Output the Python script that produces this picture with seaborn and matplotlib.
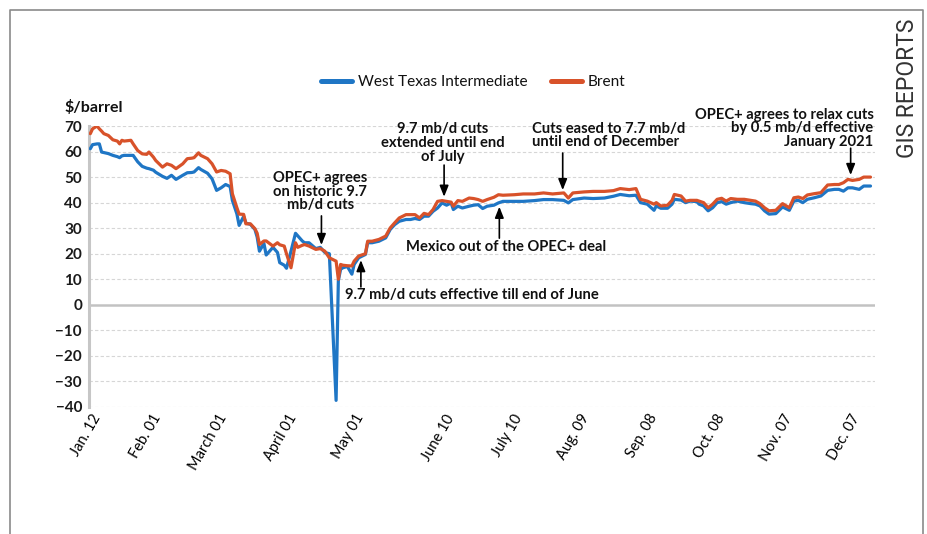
import matplotlib
matplotlib.use("Agg")
import matplotlib.pyplot as plt
from matplotlib.lines import Line2D
import pandas as pd
import seaborn as sns

# Daily crude oil prices in 2020, $/barrel
dates = [
    "2020-01-02", "2020-01-03", "2020-01-05", "2020-01-06", "2020-01-07", "2020-01-08", "2020-01-10",
    "2020-01-12", "2020-01-14", "2020-01-15", "2020-01-16", "2020-01-17", "2020-01-20", "2020-01-21",
    "2020-01-23", "2020-01-25", "2020-01-27", "2020-01-28", "2020-01-30", "2020-01-31",
    "2020-02-03", "2020-02-05", "2020-02-07", "2020-02-09", "2020-02-12", "2020-02-14", "2020-02-16",
    "2020-02-17", "2020-02-19", "2020-02-20", "2020-02-23", "2020-02-25", "2020-02-27", "2020-02-29",
    "2020-03-02", "2020-03-04", "2020-03-05", "2020-03-07", "2020-03-08", "2020-03-10", "2020-03-11",
    "2020-03-13", "2020-03-15", "2020-03-16", "2020-03-17", "2020-03-19", "2020-03-20", "2020-03-23",
    "2020-03-25", "2020-03-26", "2020-03-28", "2020-03-29", "2020-03-31",
    "2020-04-02", "2020-04-03", "2020-04-05", "2020-04-06", "2020-04-08", "2020-04-11", "2020-04-13",
    "2020-04-15", "2020-04-17", "2020-04-20", "2020-04-21", "2020-04-22", "2020-04-23", "2020-04-25",
    "2020-04-27", "2020-04-28", "2020-04-30",
    "2020-05-03", "2020-05-04", "2020-05-06", "2020-05-09", "2020-05-12", "2020-05-14", "2020-05-16",
    "2020-05-18", "2020-05-21", "2020-05-23", "2020-05-25", "2020-05-27", "2020-05-29", "2020-05-31",
    "2020-06-02", "2020-06-04", "2020-06-06", "2020-06-08", "2020-06-10", "2020-06-11", "2020-06-13",
    "2020-06-15", "2020-06-18", "2020-06-20", "2020-06-22", "2020-06-24", "2020-06-26", "2020-06-29",
    "2020-07-01", "2020-07-03", "2020-07-08", "2020-07-12", "2020-07-17", "2020-07-21", "2020-07-25",
    "2020-07-30",
    "2020-08-01", "2020-08-03", "2020-08-08", "2020-08-12", "2020-08-17", "2020-08-21", "2020-08-24",
    "2020-08-28", "2020-08-31",
    "2020-09-02", "2020-09-05", "2020-09-08", "2020-09-09", "2020-09-11", "2020-09-14", "2020-09-16",
    "2020-09-17", "2020-09-20", "2020-09-22", "2020-09-24", "2020-09-27", "2020-09-28", "2020-09-30",
    "2020-10-02", "2020-10-04", "2020-10-06", "2020-10-08", "2020-10-10", "2020-10-12", "2020-10-15",
    "2020-10-18", "2020-10-21", "2020-10-23", "2020-10-25", "2020-10-27", "2020-10-29",
    "2020-11-01", "2020-11-03", "2020-11-04", "2020-11-07", "2020-11-09", "2020-11-11", "2020-11-13",
    "2020-11-15", "2020-11-18", "2020-11-21", "2020-11-24", "2020-11-27", "2020-11-29",
    "2020-12-01", "2020-12-03", "2020-12-05", "2020-12-08", "2020-12-10", "2020-12-13",
]

wti = [
    61.1, 62.7, 63.0, 63.0, 59.8, 59.6, 59.2, 58.5, 58.0, 57.6, 58.3, 58.5, 58.5, 58.5, 56.0, 54.2, 53.5, 53.3, 52.7, 51.9,
    50.3, 49.5, 50.7, 49.1, 50.7, 51.7, 51.8, 52.0, 53.7, 53.0, 51.5, 49.3, 44.8, 45.8,
    47.1, 46.3, 40.9, 35.6, 31.1, 34.6, 32.0, 31.5, 29.5, 26.5, 21.0, 24.0, 19.5, 22.5, 20.5, 16.5, 15.5, 14.3, 21.0,
    28.0, 27.0, 25.0, 24.3, 24.3, 22.0, 22.5, 20.5, 20.0, -37.4, 9.5, 13.9, 14.5, 15.0, 12.0, 15.8, 18.4,
    19.7, 24.3, 24.3, 24.9, 26.2, 29.5, 31.4, 32.7, 33.4, 33.4, 33.8, 33.4, 34.7, 34.7,
    36.6, 37.9, 39.9, 39.0, 39.9, 37.3, 38.6, 37.9, 38.6, 39.0, 39.2, 37.7, 38.6, 39.0,
    39.9, 40.5, 40.5, 40.5, 40.8, 41.2, 41.2, 40.9,
    39.9, 41.2, 41.8, 41.6, 41.8, 42.5, 43.2, 42.7, 42.9,
    40.0, 39.4, 37.0, 38.7, 37.8, 37.8, 39.4, 41.3, 41.0, 40.0, 40.6, 40.4, 39.4, 38.7,
    36.8, 38.0, 40.0, 40.4, 39.4, 40.0, 40.6, 40.0, 39.6, 39.4, 38.7, 36.8, 35.5,
    35.7, 37.4, 38.3, 37.0, 40.6, 40.9, 40.0, 41.3, 41.9, 42.6, 44.8, 45.2, 45.2,
    44.5, 45.8, 45.8, 45.2, 46.5, 46.5,
]

brent = [
    67.0, 68.9, 70.0, 68.9, 68.0, 67.0, 66.3, 64.6, 64.1, 63.0, 64.4, 64.1, 64.4, 63.0, 60.4, 59.1, 58.9, 59.8, 57.8, 56.5,
    53.9, 55.2, 54.6, 53.3, 55.2, 57.2, 57.4, 57.6, 59.5, 58.5, 57.2, 55.2, 52.0, 52.6,
    52.3, 51.3, 43.5, 38.0, 35.5, 35.4, 31.7, 31.7, 29.8, 28.0, 23.6, 25.0, 25.0, 23.0, 24.3, 23.5, 23.0, 20.0, 14.5,
    24.3, 22.5, 23.3, 23.6, 23.0, 21.7, 22.0, 21.0, 18.4, 17.1, 10.0, 15.8, 15.5, 15.3, 15.2, 17.1, 19.1,
    20.0, 24.9, 24.9, 25.6, 26.9, 30.1, 32.1, 34.0, 35.3, 35.3, 35.3, 34.0, 35.8, 35.3,
    37.3, 40.5, 40.8, 40.5, 40.2, 38.6, 40.8, 40.5, 41.8, 41.6, 41.2, 40.5, 41.2, 42.1,
    43.1, 42.9, 43.1, 43.4, 43.4, 43.8, 43.4, 43.8,
    41.8, 43.8, 44.2, 44.4, 44.4, 44.7, 45.5, 45.1, 45.5,
    41.3, 40.6, 39.4, 40.0, 38.7, 39.0, 40.9, 43.2, 42.6, 40.6, 40.9, 40.9, 40.6, 40.0,
    38.0, 39.4, 41.3, 41.7, 40.6, 41.6, 41.3, 41.3, 40.9, 40.6, 39.6, 38.0, 36.8,
    37.0, 38.7, 39.6, 38.0, 41.9, 42.2, 41.6, 43.0, 43.5, 43.9, 46.9, 47.1, 47.1,
    47.8, 49.1, 48.7, 49.1, 50.0, 50.0,
]

series_names = ["West Texas Intermediate", "Brent"]
tick_dates = ["2020-01-05", "2020-02-01", "2020-03-01", "2020-04-01", "2020-05-01", "2020-06-10",
              "2020-07-10", "2020-08-09", "2020-09-08", "2020-10-08", "2020-11-07", "2020-12-07"]
tick_labels = ["Jan. 12", "Feb. 01", "March 01", "April 01", "May 01", "June 10",
               "July 10", "Aug. 09", "Sep. 08", "Oct. 08", "Nov. 07", "Dec. 07"]
y_ticks = list(range(-40, 71, 10))

colors = {"West Texas Intermediate": "#1F76C5", "Brent": "#D8522A"}

sns.set_theme(style="white")
plt.rcParams["font.family"] = ["Lato", "DejaVu Sans"]

W, H = 927, 534
fig = plt.figure(figsize=(W / 100, H / 100), dpi=100)
ax = fig.add_axes([89 / W, 1 - 407 / H, (875 - 89) / W, (407 - 126) / H])

df = pd.DataFrame({
    "date": pd.to_datetime(dates + dates),
    "price": wti + brent,
    "series": [series_names[0]] * len(dates) + [series_names[1]] * len(dates),
})

sns.lineplot(data=df, x="date", y="price", hue="series", hue_order=series_names,
             palette=colors, linewidth=2.3, estimator=None, ax=ax, zorder=3)

# legend centred above the plot
sns.move_legend(ax, "center", bbox_to_anchor=(473.5 / W, 1 - 82 / H),
                bbox_transform=fig.transFigure, ncol=2, frameon=False, title=None,
                fontsize=11.1, handlelength=2.0, handletextpad=0.4, columnspacing=1.5)
for line in ax.get_legend().get_lines():
    line.set_linewidth(3.6)
    line.set_solid_capstyle("round")
for txt in ax.get_legend().get_texts():
    txt.set_color("#111111")

ax.set_ylim(-40, 70)
ax.set_xlim(pd.Timestamp("2020-01-01 10:00"), pd.Timestamp("2020-12-15"))
ax.set_yticks(y_ticks)
ax.set_xticks(pd.to_datetime(tick_dates))
ax.set_xticklabels(tick_labels, rotation=60, ha="right", va="center",
                   rotation_mode="anchor", fontsize=10.5, color="#000000")
ax.set_xlabel("")
ax.set_ylabel("")
ax.tick_params(axis="x", length=0, pad=6)
ax.tick_params(axis="y", length=0, pad=5, labelsize=11, labelcolor="#1a1a1a")
for lbl in ax.get_yticklabels():
    lbl.set_fontweight("bold")

# dashed horizontal grid, solid zero line
for y in y_ticks:
    if y != 0:
        ax.axhline(y, color="#d6d6d6", lw=0.8, ls=(0, (3, 2)), zorder=0)
ax.axhline(0, color="#c2c2c2", lw=1.8, zorder=1)

for side in ["top", "right", "bottom"]:
    ax.spines[side].set_visible(False)
ax.spines["left"].set_color("#c6c6c6")
ax.spines["left"].set_linewidth(2.2)


def day(d):
    return pd.Timestamp("2020-01-01") + pd.Timedelta(days=d)


arrow_style = dict(arrowstyle="-|>,head_length=0.55,head_width=0.22", color="black",
                   lw=1.2, shrinkA=0, shrinkB=0)
note_style = dict(fontsize=10.6, fontweight="bold", color="#111111", linespacing=0.97, zorder=5)

# OPEC+ historic cut
ax.annotate("", xy=(day(103.5), 23.4), xytext=(day(103.5), 34.8), arrowprops=arrow_style)
ax.text(day(102.9), 44.3, "OPEC+ agrees\non historic 9.7\nmb/d cuts", ha="center", va="center",
        **note_style)

# cuts effective till end of June
ax.annotate("", xy=(day(121), 17.5), xytext=(day(121), 7.0), arrowprops=arrow_style)
ax.text(day(114), 3.8, "9.7 mb/d cuts effective till end of June", ha="left", va="center",
        **note_style)

# Mexico
ax.annotate("", xy=(day(182.4), 38.4), xytext=(day(182.4), 26.1), arrowprops=arrow_style)
ax.text(day(141), 22.6, "Mexico out of the OPEC+ deal", ha="left", va="center", **note_style)

# cuts extended
ax.annotate("", xy=(day(157.9), 42.3), xytext=(day(157.9), 54.7), arrowprops=arrow_style)
ax.text(day(157.4), 63.4, "9.7 mb/d cuts\nextended until end\nof July", ha="center",
        va="center", **note_style)

# cuts eased
ax.annotate("", xy=(day(210.5), 44.9), xytext=(day(210.5), 59.4), arrowprops=arrow_style)
ax.text(day(196.8), 66.3, "Cuts eased to 7.7 mb/d\nuntil end of December", ha="left",
        va="center", multialignment="left", **note_style)

# relaxed cuts from January 2021
ax.annotate("", xy=(day(338.2), 50.8), xytext=(day(338.2), 61.3), arrowprops=arrow_style)
ax.text(day(348.3), 69.1, "OPEC+ agrees to relax cuts\nby 0.5 mb/d effective\nJanuary 2021",
        ha="right", va="center", multialignment="right", **note_style)

fig.text(64 / W, 1 - 108 / H, "$/barrel", ha="left", va="center", fontsize=11.5,
         fontweight="bold", color="#111111")

fig.text(907 / W, 1 - 88 / H, "GIS REPORTS", rotation=90, ha="center", va="center",
         fontsize=16.5, family=["Roboto", "DejaVu Sans"], fontweight="normal", color="#333333")

# outer frame
fig.add_artist(Line2D([10 / W, 10 / W, 923 / W, 923 / W], [0, 1 - 10 / H, 1 - 10 / H, 0],
                      transform=fig.transFigure, color="#8a8a8a", lw=1.2))

fig.savefig("out.png", dpi=100)
